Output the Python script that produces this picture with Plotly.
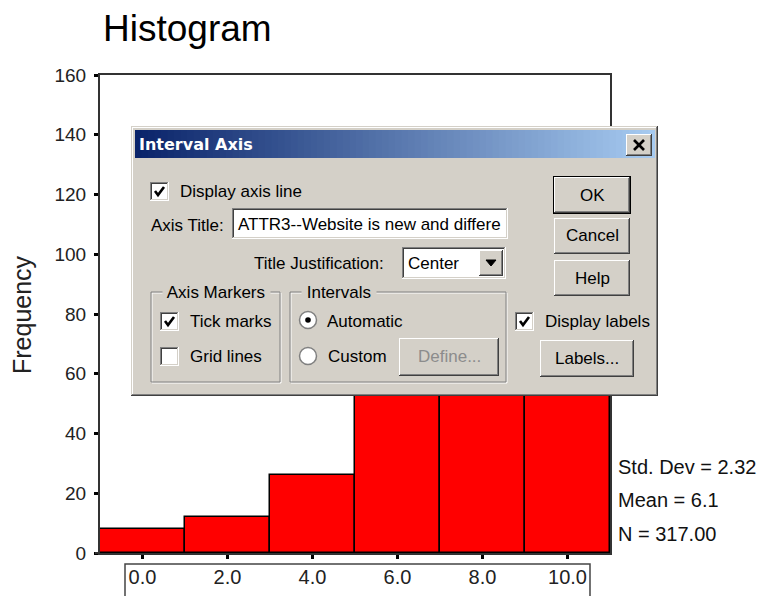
import plotly.graph_objects as go

# ---------------- data ----------------
bin_centers = [0, 2, 4, 6, 8, 10]
frequencies = [8, 12, 26, 105, 98, 68]
x_tick_values = [0, 2, 4, 6, 8, 10]
y_tick_values = [0, 20, 40, 60, 80, 100, 120, 140, 160]
stats_labels = ["Std. Dev = 2.32", "Mean = 6.1", "N = 317.00"]
chart_title = "Histogram"
y_title = "Frequency"

# ---------------- geometry helpers ----------------
W, H = 761, 596
ML, MT = 100, 75
PW, PH = 510, 478
FONT = "Liberation Sans"
FACE = "#D4D0C8"

def px(x):
    return (x - ML) / PW

def py(y):
    return (MT + PH - y) / PH

shapes = []
annotations = []

def rect(x0, y0, x1, y1, fill=None, line=None, lw=0):
    shapes.append(dict(type="rect", xref="paper", yref="paper",
                       x0=px(x0), x1=px(x1), y0=py(y0), y1=py(y1),
                       fillcolor=fill if fill else "rgba(0,0,0,0)",
                       line=dict(color=line if line else "rgba(0,0,0,0)", width=lw),
                       layer="above"))

def line(x0, y0, x1, y1, color="black", lw=1):
    shapes.append(dict(type="line", xref="paper", yref="paper",
                       x0=px(x0), x1=px(x1), y0=py(y0), y1=py(y1),
                       line=dict(color=color, width=lw), layer="above"))

def path(points, color="black", lw=2, fill=None, close=False, layer="above"):
    d = "M " + " L ".join(f"{px(a):.5f},{py(b):.5f}" for a, b in points)
    if close:
        d += " Z"
    shapes.append(dict(type="path", xref="paper", yref="paper", path=d,
                       line=dict(color=color, width=lw),
                       fillcolor=fill if fill else "rgba(0,0,0,0)", layer=layer))

def circle(cx, cy, r, fill, linec=None, lw=0):
    shapes.append(dict(type="circle", xref="paper", yref="paper",
                       x0=px(cx - r), x1=px(cx + r), y0=py(cy + r), y1=py(cy - r),
                       fillcolor=fill,
                       line=dict(color=linec if linec else "rgba(0,0,0,0)", width=lw),
                       layer="above"))

def text(x, y, s, size=17, color="black", xanchor="left", family=FONT, bg=None, angle=0):
    a = dict(x=px(x), y=py(y), xref="paper", yref="paper", text=s, showarrow=False,
             xanchor=xanchor, yanchor="middle", textangle=angle, borderpad=0,
             font=dict(family=family, size=size, color=color))
    if bg:
        a["bgcolor"] = bg
    annotations.append(a)

def raised(x0, y0, x1, y1):
    rect(x0, y0, x1, y1, "#404040")
    rect(x0, y0, x1 - 1, y1 - 1, "#FFFFFF")
    rect(x0 + 1, y0 + 1, x1 - 1, y1 - 1, "#808080")
    rect(x0 + 1, y0 + 1, x1 - 2, y1 - 2, FACE)

def sunken(x0, y0, x1, y1, fill="#FFFFFF"):
    rect(x0, y0, x1, y1, "#FFFFFF")
    rect(x0, y0, x1 - 1, y1 - 1, "#808080")
    rect(x0 + 1, y0 + 1, x1 - 1, y1 - 1, FACE)
    rect(x0 + 1, y0 + 1, x1 - 2, y1 - 2, "#404040")
    rect(x0 + 2, y0 + 2, x1 - 2, y1 - 2, fill)

def checkbox(x0, y0, checked):
    sunken(x0, y0, x0 + 19, y0 + 19)
    if checked:
        path([(x0 + 5, y0 + 9), (x0 + 8, y0 + 13), (x0 + 14, y0 + 5)], "black", 2.6)

def etched(x0, y0, x1, y1):
    rect(x0 + 1, y0 + 1, x1, y1, None, "#FFFFFF", 1)
    rect(x0, y0, x1 - 1, y1 - 1, None, "#808080", 1)

# ---------------- chart ----------------
fig = go.Figure()
fig.add_trace(go.Bar(x=bin_centers, y=frequencies, width=2,
                     marker=dict(color="#FF0000", line=dict(color="black", width=1.5)),
                     hoverinfo="skip"))

# small axis extension left of the y axis
line(95, 553, 100, 553, "#333333", 2)
# box around x tick labels (open at the bottom edge of the figure)
path([(125, 596), (125, 564), (590, 564), (590, 596)], "#444444", 1.5, layer="below")

text(102, 29, chart_title, size=37, family=FONT)
text(22, 315, y_title, size=25, color="#222222", xanchor="center", angle=-90)
for i, s in enumerate(stats_labels):
    text(617, [467, 500, 534][i], s, size=20, color="#111111")

# ---------------- dialog ----------------
dx0, dy0, dx1, dy1 = 131, 126, 658, 396
rect(dx0, dy0, dx1, dy1, "#404040")
rect(dx0, dy0, dx1 - 1, dy1 - 1, FACE)
rect(dx0 + 1, dy0 + 1, dx1 - 1, dy1 - 1, "#808080")
rect(dx0 + 1, dy0 + 1, dx1 - 2, dy1 - 2, "#FFFFFF")
rect(dx0 + 2, dy0 + 2, dx1 - 2, dy1 - 2, FACE)

# title bar gradient
tb_x0, tb_x1, tb_y0, tb_y1 = 135, 655, 130, 158
c0 = (10, 36, 106)
c1 = (166, 202, 240)
n = 80
for i in range(n):
    t = i / (n - 1)
    col = tuple(int(round(c0[k] + (c1[k] - c0[k]) * t)) for k in range(3))
    xa = tb_x0 + (tb_x1 - tb_x0) * i / n
    xb = tb_x0 + (tb_x1 - tb_x0) * (i + 1) / n + 0.6
    rect(xa, tb_y0, min(xb, tb_x1), tb_y1, "rgb(%d,%d,%d)" % col)
annotations.append(dict(x=px(138), y=py(144), xref="paper", yref="paper",
                        text="<b>Interval Axis</b>", showarrow=False, xanchor="left",
                        yanchor="middle", borderpad=0,
                        font=dict(family="DejaVu Sans", size=16, color="white")))
# close button
raised(626, 134, 652, 156)
line(634, 140, 644, 150, "black", 2.6)
line(634, 150, 644, 140, "black", 2.6)

# display axis line
checkbox(150, 182, True)
text(179, 192, "Display axis line")
# axis title
text(150, 225, "Axis Title:")
sunken(232, 208, 508, 239)
text(237, 224, "ATTR3--Website is new and differe")
# title justification
text(385, 263, "Title Justification:", xanchor="right")
sunken(402, 247, 506, 279)
text(407, 263, "Center")
raised(479, 250, 503, 276)
path([(486, 260), (496, 260), (491, 266)], "black", 1, fill="black", close=True)

# axis markers group
etched(151, 292, 281, 383)
text(162, 292, " Axis Markers ", bg=FACE)
checkbox(160, 312, True)
text(189, 321, "Tick marks")
checkbox(160, 347, False)
text(189, 356, "Grid lines")

# intervals group
etched(290, 292, 507, 383)
text(301, 292, " Intervals ", bg=FACE)
circle(308, 320, 8.5, "#FFFFFF", "#808080", 1.5)
circle(308, 320, 2.8, "black")
text(326, 321, "Automatic")
circle(308, 356, 8.5, "#FFFFFF", "#808080", 1.5)
text(327, 356, "Custom")
raised(399, 338, 499, 376)
text(449, 357, "Define...", color="#8C8C8C", xanchor="center")

# right buttons
rect(553, 176, 631, 214, "#000000")
raised(554, 177, 630, 213)
text(592, 195, "OK", xanchor="center")
raised(554, 218, 630, 254)
text(592, 236, "Cancel", xanchor="center")
raised(554, 260, 630, 296)
text(592, 278, "Help", xanchor="center")

checkbox(515, 312, True)
text(544, 321, "Display labels")
raised(540, 340, 634, 377)
text(587, 358, "Labels...", xanchor="center")

fig.update_layout(
    width=W, height=H, autosize=False,
    margin=dict(l=ML, r=W - ML - PW, t=MT, b=H - MT - PH, pad=0, autoexpand=False),
    plot_bgcolor="white", paper_bgcolor="white",
    showlegend=False, bargap=0,
    shapes=shapes, annotations=annotations,
    xaxis=dict(range=[-1, 11], tickvals=x_tick_values, tickformat=".1f",
               automargin=False,
               showgrid=False, zeroline=False, showline=True, linecolor="#333333",
               linewidth=2, mirror=True, ticks="outside", ticklen=4, tickwidth=3,
               tickcolor="black", ticklabelstandoff=1,
               tickfont=dict(family=FONT, size=20, color="#222222")),
    yaxis=dict(range=[0, 160], tickvals=y_tick_values,
               automargin=False,
               showgrid=False, zeroline=False, showline=True, linecolor="#333333",
               linewidth=2, mirror=True, ticks="outside", ticklen=4, tickwidth=3,
               tickcolor="black", ticklabelstandoff=4,
               tickfont=dict(family=FONT, size=19, color="#222222")),
)

fig.write_html("out.html", config={"displayModeBar": False},
               post_script="document.body.style.margin='0';document.body.style.padding='0';document.body.style.overflow='hidden';")
